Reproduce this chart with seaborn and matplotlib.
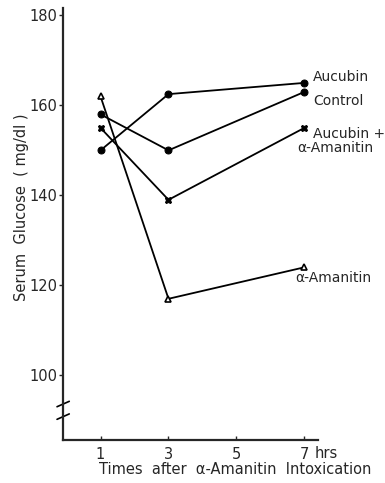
import matplotlib
matplotlib.use("Agg")
import matplotlib.pyplot as plt
import seaborn as sns
import pandas as pd

times = [1, 3, 7]
aucubin = [150, 162.5, 165]
control = [158, 150, 163]
aucubin_amanitin = [155, 139, 155]
amanitin = [162, 117, 124]
groups = ["Aucubin", "Control", "Aucubin + α-Amanitin", "α-Amanitin"]
xticks = [1, 3, 5, 7]
yticks = [100, 120, 140, 160, 180]

rows = []
for g, vals in zip(groups, [aucubin, control, aucubin_amanitin, amanitin]):
    for t, v in zip(times, vals):
        rows.append({"time": t, "glucose": v, "group": g})
df = pd.DataFrame(rows)

sns.set_style("ticks")
plt.rcParams["font.family"] = ["DejaVu Sans"]

fig = plt.figure(figsize=(3.85, 4.83), dpi=100)
ax = fig.add_axes([0.164, 0.089, 0.662, 0.894])

markers = {"Aucubin": "o", "Control": "o", "Aucubin + α-Amanitin": "X", "α-Amanitin": "^"}
sns.lineplot(data=df, x="time", y="glucose", hue="group", style="group",
             markers=markers, dashes=False, palette=["black"] * 4,
             markersize=5, linewidth=1.3, legend=False, ax=ax,
             markeredgecolor="black")
for l in ax.lines:
    if l.get_marker() == "^":
        l.set_markerfacecolor("white")
        l.set_markeredgewidth(1.2)

ax.set_xlim(-0.1, 7.4)
ax.set_ylim(85.6, 181.6)
ax.set_xticks(xticks)
ax.set_xticklabels([str(x) for x in xticks])
ax.set_yticks(yticks)
ax.set_yticklabels([str(y) for y in yticks])
ax.tick_params(axis="x", direction="in", length=3, labelsize=10.5, pad=5, width=1)
ax.tick_params(axis="y", direction="out", length=3, labelsize=10.5, pad=1, width=1)
sns.despine(ax=ax)
for s in ["left", "bottom"]:
    ax.spines[s].set_linewidth(1.6)
ax.set_xlabel("")
ax.set_ylabel("Serum  Glucose  ( mg/dl )", fontsize=10.5)
ax.yaxis.set_label_coords(-0.135, 0.54)

ax.text(7.3, 85.6 - 2.9, "hrs", fontsize=10.5, ha="left", va="center", clip_on=False)
fig.text(0.258, 0.028, "Times  after  α-Amanitin  Intoxication", fontsize=10.5,
         ha="left", va="center")

txt = dict(fontsize=10, ha="left", va="center")
ax.text(7.26, 166.2, "Aucubin", **txt)
ax.text(7.26, 160.9, "Control", **txt)
ax.text(7.26, 153.6, "Aucubin +", **txt)
ax.text(6.8, 150.5, "α-Amanitin", **txt)
ax.text(6.74, 121.6, "α-Amanitin", **txt)

# axis break marks
for yb in [93.6, 90.8]:
    ax.plot([-0.28, 0.08], [yb - 0.6, yb + 0.6], color="black", lw=1.2, clip_on=False)

fig.savefig("out.png", dpi=100)
